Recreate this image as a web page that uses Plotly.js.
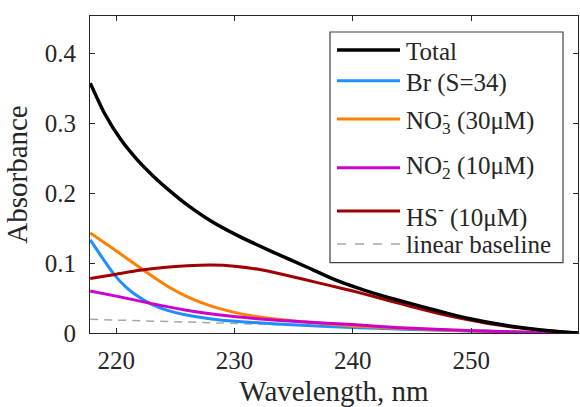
<!DOCTYPE html>
<html><head><meta charset="utf-8">
<script src="https://cdn.plot.ly/plotly-3.0.1.min.js"></script>
<style>html,body{margin:0;padding:0;background:#fff}</style>
</head><body><div id="chart" style="width:580px;height:407px"></div>
<script>
// ---- data ----
const wlTotal = [217.8,219.0,220.4,221.8,223.2,224.6,226.0,228.0,230.4,233.2,236.0,238.8,241.0,244.0,246.0,248.0,250.0,252.5,255.0,257.0,259.0];
const absTotal = [0.357,0.314,0.276,0.247,0.223,0.202,0.183,0.160,0.138,0.116,0.095,0.074,0.061,0.046,0.037,0.028,0.020,0.012,0.006,0.0025,0.0];

const wlBr = [217.8,218.8,219.9,220.8,221.6,223.0,224.4,225.8,227.2,228.6,231.5,235.7,240,245,250,255,259];
const absBr = [0.133,0.108,0.082,0.066,0.055,0.041,0.032,0.026,0.022,0.019,0.015,0.011,0.008,0.005,0.003,0.001,0.0];

const wlNO3 = [217.8,219.0,220.2,221.2,222.3,223.4,224.4,225.8,227.2,228.6,230.0,231.4,232.9,235.7,240,245,250,255,259];
const absNO3 = [0.143,0.129,0.115,0.103,0.090,0.077,0.066,0.0535,0.0435,0.0355,0.0295,0.0248,0.021,0.016,0.010,0.006,0.003,0.001,0.0];

const wlNO2 = [217.8,220.2,223.0,225.8,228.6,231.5,235.7,240,244,248,252.5,256,259];
const absNO2 = [0.060,0.052,0.042,0.033,0.026,0.021,0.016,0.012,0.0075,0.0045,0.002,0.0005,0.0];

const wlHS = [217.8,220.0,222.0,224.0,226.0,228.0,230.0,232.0,234.0,236.0,238.0,240.0,242.0,244.0,246.0,248.0,250.0,252.0,254.0,256.0,259.0];
const absHS = [0.078,0.084,0.0895,0.0935,0.096,0.097,0.0955,0.091,0.084,0.076,0.068,0.060,0.051,0.042,0.033,0.025,0.018,0.012,0.0075,0.004,0.0];

const wlBase = [217.8,259.0];
const absBase = [0.0195,0.0];

const xTicks = [220,230,240,250];
const yTicks = [0,0.1,0.2,0.3,0.4];
const yTickText = ['0','0.1','0.2','0.3','0.4'];

const seriesNames = ['Total','Br (S=34)','NO3 (30μM)','NO2 (10μM)','HS (10μM)','linear baseline'];
const colors = ['#000000','#1e8fff','#ff8000','#cc00cc','#a00000','#a6a6a6'];

// ---- geometry helpers (pixel -> paper) ----
const L = 90, R = 578, T = 16, B = 333;
const px = x => (x - L) / (R - L);
const py = y => (B - y) / (B - T);

const FONT = 'Liberation Serif, Times New Roman, serif';
const TXT = '#262626';

const traces = [
  {x: wlBase, y: absBase, name: seriesNames[5], line: {color: colors[5], width: 1.5, dash: '8px,6px'}},
  {x: wlBr, y: absBr, name: seriesNames[1], line: {color: colors[1], width: 3, shape: 'spline', smoothing: 0.6}},
  {x: wlNO3, y: absNO3, name: seriesNames[2], line: {color: colors[2], width: 3, shape: 'spline', smoothing: 0.6}},
  {x: wlNO2, y: absNO2, name: seriesNames[3], line: {color: colors[3], width: 3, shape: 'spline', smoothing: 0.6}},
  {x: wlHS, y: absHS, name: seriesNames[4], line: {color: colors[4], width: 3, shape: 'spline', smoothing: 0.6}},
  {x: wlTotal, y: absTotal, name: seriesNames[0], line: {color: colors[0], width: 3.5, shape: 'spline', smoothing: 0.6}}
].map(t => Object.assign({type: 'scatter', mode: 'lines', hoverinfo: 'skip'}, t));

// ---- manual legend ----
const rows = [
  {c: colors[0], ly: 50,  base: 60,    text: 'Total', dash: 'solid', w: 3.5},
  {c: colors[1], ly: 80.7, base: 91.7, text: 'Br (S=34)', dash: 'solid', w: 3},
  {c: colors[2], ly: 119, base: 129.3, text: 'NO<sub>3</sub> (30μM)', dash: 'solid', w: 3, minusY: 115},
  {c: colors[3], ly: 167.7, base: 174, text: 'NO<sub>2</sub> (10μM)', dash: 'solid', w: 3, minusY: 160.7},
  {c: colors[4], ly: 211, base: 221.7, text: 'HS<sup>-</sup> (10μM)', dash: 'solid', w: 3},
  {c: colors[5], ly: 244, base: 253, text: 'linear baseline', dash: 'dash', w: 1.5}
];
const LEGFS = 25;
const shapes = [
  {type: 'rect', xref: 'paper', yref: 'paper', x0: px(330), x1: px(563), y0: py(262.7), y1: py(32),
   line: {color: '#404040', width: 1.2}, fillcolor: '#ffffff', layer: 'above'}
];
const annotations = [];
rows.forEach(r => {
  shapes.push({type: 'line', xref: 'paper', yref: 'paper', x0: px(337), x1: px(400), y0: py(r.ly), y1: py(r.ly),
    line: {color: r.c, width: r.w, dash: r.dash}, layer: 'above'});
  annotations.push({xref: 'paper', yref: 'paper', x: px(405), y: py(r.base - 23.3), xanchor: 'left', yanchor: 'top',
    text: r.text, showarrow: false, borderpad: 0, font: {family: FONT, size: LEGFS, color: TXT}});
  if (r.minusY) {
    annotations.push({xref: 'paper', yref: 'paper', x: px(442), y: py(r.minusY), xanchor: 'left', yanchor: 'middle',
      text: '-', showarrow: false, borderpad: 0, font: {family: FONT, size: 17, color: TXT}});
  }
});

const axisCommon = {
  showline: true, linecolor: TXT, linewidth: 1, mirror: 'ticks', ticks: 'inside', ticklen: 5,
  tickcolor: TXT, showgrid: false, zeroline: false, fixedrange: true,
  tickfont: {family: FONT, size: 25, color: TXT}
};

const layout = {
  width: 580, height: 407,
  margin: {l: L, r: 580 - R, t: T, b: 407 - B},
  paper_bgcolor: '#ffffff', plot_bgcolor: '#ffffff',
  showlegend: false,
  font: {family: FONT, color: TXT},
  xaxis: Object.assign({}, axisCommon, {
    range: [217.78, 259.03], tickvals: xTicks, ticktext: xTicks.map(String), ticklabelstandoff: 5,
    title: {text: 'Wavelength, nm', font: {family: FONT, size: 29, color: TXT}, standoff: 15}
  }),
  yaxis: Object.assign({}, axisCommon, {
    range: [0, 0.4529], tickvals: yTicks, ticktext: yTickText, ticklabelstandoff: 8,
    title: {text: 'Absorbance', font: {family: FONT, size: 29, color: TXT}, standoff: 8}
  }),
  shapes: shapes,
  annotations: annotations
};

Plotly.newPlot('chart', traces, layout, {displayModeBar: false, staticPlot: true});
</script></body></html>
